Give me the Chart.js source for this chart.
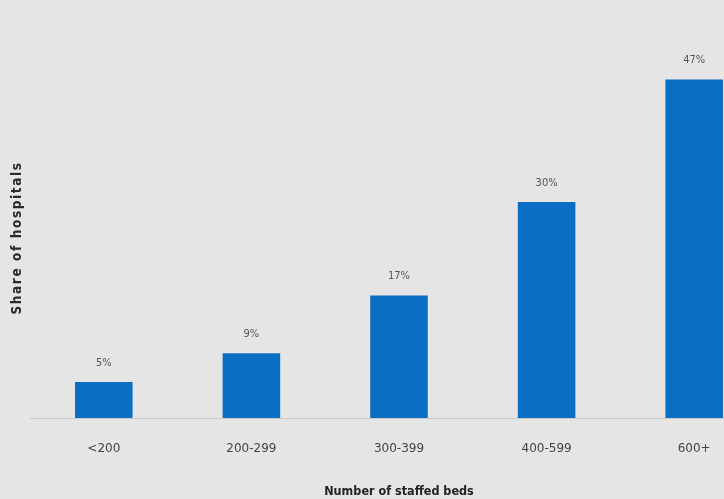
<!DOCTYPE html>
<html>
<head>
<meta charset="utf-8">
<script src="https://cdn.jsdelivr.net/npm/chart.js@4"></script>
<style>
  html, body { margin: 0; padding: 0; background: #e5e5e5; overflow: hidden; }
  #wrap { width: 724px; height: 499px; overflow: hidden; }
  canvas { display: block; }
</style>
</head>
<body>
<div id="wrap">
  <canvas id="bedsChart" width="768" height="499"></canvas>
</div>
<script>
const categories = ["<200", "200-299", "300-399", "400-599", "600+"];
const shares = [5, 9, 17, 30, 47];
const valueLabels = ["5%", "9%", "17%", "30%", "47%"];
const yTitle = "Share of hospitals";

const narrow = '"DejaVu Sans Condensed", "Liberation Sans Narrow", sans-serif';
const wide = '"DejaVu Sans", "Open Sans", sans-serif';

// value labels above each bar
const barLabels = {
  id: "barLabels",
  afterDatasetsDraw(chart) {
    const ctx = chart.ctx;
    const meta = chart.getDatasetMeta(0);
    ctx.save();
    ctx.font = "11px " + narrow;
    ctx.fillStyle = "#555555";
    ctx.textAlign = "center";
    ctx.textBaseline = "middle";
    meta.data.forEach((bar, i) => {
      ctx.fillText(valueLabels[i], bar.x, bar.y - 19);
    });
    ctx.restore();
  }
};

// rotated y title
const sideTitle = {
  id: "sideTitle",
  afterDraw(chart) {
    const ctx = chart.ctx;
    const area = chart.chartArea;
    ctx.save();
    ctx.translate(17, (area.top + area.bottom) / 2);
    ctx.rotate(-Math.PI / 2);
    ctx.font = "bold 13.5px " + narrow;
    ctx.letterSpacing = "1.6px";
    ctx.fillStyle = "#2a2a2a";
    ctx.textAlign = "center";
    ctx.textBaseline = "middle";
    ctx.fillText(yTitle, 0, 0);
    ctx.restore();
  }
};

const ctx = document.getElementById("bedsChart").getContext("2d");
new Chart(ctx, {
  type: "bar",
  data: {
    labels: categories,
    datasets: [{
      data: shares,
      backgroundColor: "#0a6fc2",
      barPercentage: 0.39,
      categoryPercentage: 1
    }]
  },
  options: {
    responsive: false,
    animation: false,
    layout: { padding: { top: 58, right: 0, bottom: 0, left: 0 } },
    plugins: {
      legend: { display: false },
      tooltip: { enabled: false }
    },
    scales: {
      x: {
        grid: { display: false },
        border: { color: "#c9c9c9", width: 1 },
        ticks: {
          color: "#444444",
          font: { family: wide, size: 12 },
          padding: 16
        },
        title: {
          display: true,
          text: "Number of staffed beds",
          color: "#222222",
          font: { family: narrow, size: 12.5, weight: "bold" },
          padding: { top: 24, bottom: 0 }
        },
        afterFit(scale) { scale.height = 81; }
      },
      y: {
        min: 0,
        max: 50,
        grid: { display: false },
        border: { display: false },
        ticks: { display: false },
        afterFit(scale) { scale.width = 30; }
      }
    }
  },
  plugins: [barLabels, sideTitle]
});
</script>
</body>
</html>
